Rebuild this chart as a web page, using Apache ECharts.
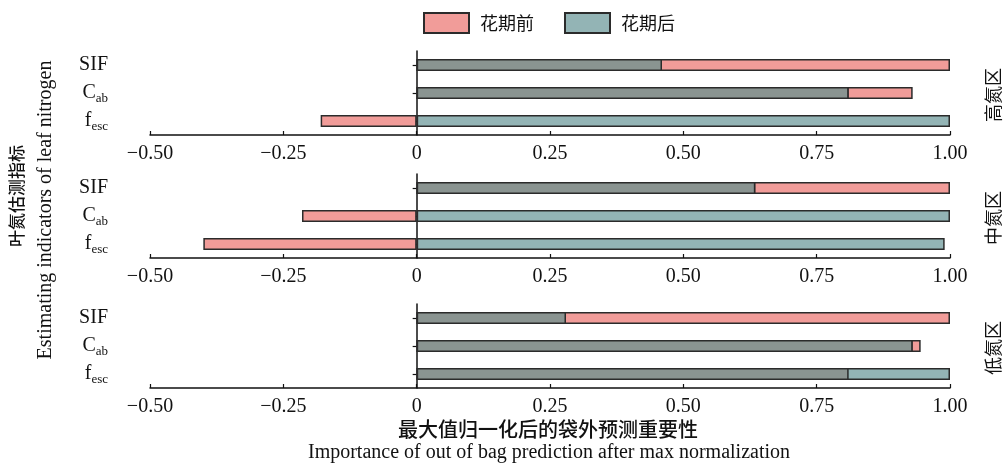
<!DOCTYPE html>
<html>
<head>
<meta charset="utf-8">
<script src="https://cdn.jsdelivr.net/npm/echarts@6/dist/echarts.min.js"></script>
<style>
  html, body { margin: 0; padding: 0; background: #fff; }
  #chart { width: 1007px; height: 465px; }
</style>
</head>
<body>
<div id="chart"></div>
<script>
// 指标（从上到下）
const categories = ['SIF', 'Cab', 'fesc']
// x 轴刻度
const xTicks = [-0.5, -0.25, 0, 0.25, 0.5, 0.75, 1.0]
// 区域名称
const zones = ['高氮区', '中氮区', '低氮区']
// 花期前 / 花期后 归一化重要性
const highBefore = [1.0, 0.93, -0.18]
const highAfter = [0.46, 0.81, 1.0]
const midBefore = [1.0, -0.215, -0.40]
const midAfter = [0.635, 1.0, 0.99]
const lowBefore = [1.0, 0.945, 0.81]
const lowAfter = [0.28, 0.93, 1.0]

const beforeList = [highBefore, midBefore, lowBefore]
const afterList = [highAfter, midAfter, lowAfter]

const serif = '"Liberation Serif", "DejaVu Serif", serif'
const cjk = '"Noto Sans CJK SC", sans-serif'
const pink = '#f19c99'
const teal = '#93b4b5'
const gray = '#8a9491'
const edge = '#2b2b2b'

const chart = echarts.init(document.getElementById('chart'))

// 三个面板的上边位置
const gridTops = [51, 174, 304]
const gridH = 84

const grid = []
const xAxis = []
const yAxis = []
const series = []

gridTops.forEach((top, i) => {
  grid.push({ left: 150, right: 57, top: top, height: gridH, containLabel: false, outerBoundsMode: 'none' })
  xAxis.push({
    type: 'value',
    gridIndex: i,
    min: xTicks[0],
    max: xTicks[xTicks.length - 1],
    interval: 0.25,
    splitLine: { show: false },
    axisLine: { show: true, lineStyle: { color: '#111', width: 1.5 } },
    axisTick: { show: true, inside: true, length: 4, lineStyle: { color: '#111', width: 1.2 } },
    axisLabel: {
      margin: 9,
      color: '#111',
      fontFamily: serif,
      fontSize: 20,
      formatter: v => (v === 0 ? '0' : (v < 0 ? '\u2212' : '') + Math.abs(v).toFixed(2))
    }
  })
  // 零线上的 y 轴（只画线和刻度）
  yAxis.push({
    type: 'category',
    gridIndex: i,
    inverse: true,
    data: categories,
    axisLine: { show: true, onZero: true, lineStyle: { color: '#111', width: 1.5 } },
    axisTick: { show: true, alignWithLabel: true, length: 4, lineStyle: { color: '#111', width: 1.2 } },
    axisLabel: { show: false }
  })
  // 左侧的指标标签
  yAxis.push({
    type: 'category',
    gridIndex: i,
    inverse: true,
    position: 'left',
    data: categories,
    axisLine: { show: false, onZero: false },
    axisTick: { show: false },
    axisLabel: {
      margin: 42,
      color: '#111',
      formatter: v => {
        if (v === 'Cab') return '{m|C}{s|ab}'
        if (v === 'fesc') return '{m|f}{s|esc}'
        return '{m|' + v + '}'
      },
      rich: {
        m: { fontFamily: serif, fontSize: 20, color: '#111' },
        s: { fontFamily: serif, fontSize: 13, color: '#111', padding: [11, 0, 0, 0] }
      }
    }
  })

  const before = beforeList[i]
  const after = afterList[i]
  // 重叠部分：两期同号时取较短者
  const overlap = before.map((b, k) => {
    const a = after[k]
    if (a > 0 && b > 0) return Math.min(a, b)
    if (a < 0 && b < 0) return Math.max(a, b)
    return '-'
  })
  const common = {
    type: 'bar',
    xAxisIndex: i,
    yAxisIndex: i * 2,
    barWidth: 12,
    barGap: '-100%',
    animation: false
  }
  series.push({
    ...common,
    name: '花期前',
    data: before,
    itemStyle: { color: pink, borderColor: edge, borderWidth: 1.5 }
  })
  series.push({
    ...common,
    name: '花期后',
    data: after,
    itemStyle: { color: teal, borderColor: edge, borderWidth: 1.5 }
  })
  series.push({
    ...common,
    name: '重叠',
    data: overlap,
    itemStyle: { color: gray, borderColor: edge, borderWidth: 1.5 }
  })
})

const rightLabelY = [95, 218, 348]

const option = {
  backgroundColor: '#fff',
  animation: false,
  legend: {
    data: ['花期前', '花期后'],
    top: 7,
    left: 418,
    icon: 'rect',
    itemWidth: 45,
    itemHeight: 20,
    itemGap: 30,
    textStyle: { fontFamily: cjk, fontSize: 18, color: '#111', padding: [0, 0, 0, 6] }
  },
  grid,
  xAxis,
  yAxis,
  series,
  graphic: [
    ...zones.map((z, i) => ({
      type: 'text',
      x: 993,
      y: rightLabelY[i],
      rotation: Math.PI / 2,
      style: {
        text: z,
        fontFamily: cjk,
        fontSize: 18,
        fill: '#111',
        align: 'center',
        verticalAlign: 'middle'
      }
    })),
    {
      type: 'text',
      x: 17,
      y: 196,
      rotation: Math.PI / 2,
      style: {
        text: '叶氮估测指标',
        fontFamily: cjk,
        fontSize: 17,
        fontWeight: 500,
        fill: '#111',
        align: 'center',
        verticalAlign: 'middle'
      }
    },
    {
      type: 'text',
      x: 46,
      y: 210,
      rotation: Math.PI / 2,
      style: {
        text: 'Estimating indicators of leaf nitrogen',
        fontFamily: serif,
        fontSize: 20,
        fill: '#111',
        align: 'center',
        verticalAlign: 'middle'
      }
    },
    {
      type: 'text',
      x: 548,
      y: 429,
      style: {
        text: '最大值归一化后的袋外预测重要性',
        fontFamily: cjk,
        fontSize: 20,
        fontWeight: 500,
        fill: '#111',
        align: 'center',
        verticalAlign: 'middle'
      }
    },
    {
      type: 'text',
      x: 549,
      y: 453,
      style: {
        text: 'Importance of out of bag prediction after max normalization',
        fontFamily: serif,
        fontSize: 20,
        fill: '#111',
        align: 'center',
        verticalAlign: 'middle'
      }
    }
  ]
}

chart.setOption(option)
</script>
</body>
</html>
